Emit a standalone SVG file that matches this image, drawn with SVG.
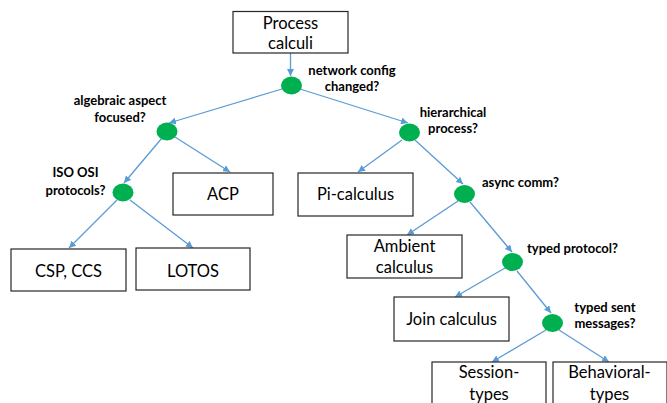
<svg xmlns="http://www.w3.org/2000/svg" width="667" height="403" viewBox="0 0 667 403">
<style>
.box{fill:#fff;stroke:#262626;stroke-width:1.2}
.dec{fill:#00b050}
.conn{stroke:#5b9bd5;stroke-width:1.3;fill:none;marker-end:url(#ah)}
.bt{font-family:Lato,"Open Sans",sans-serif;font-size:16.5px;fill:#000;text-anchor:middle}
.q{font-family:Lato,"Open Sans",sans-serif;font-size:13px;font-weight:bold;fill:#000}
.qc{text-anchor:middle}
</style>
<defs>
<marker id="ah" viewBox="0 0 10 10" refX="10" refY="5" markerWidth="7" markerHeight="7" markerUnits="userSpaceOnUse" orient="auto">
<path d="M0,0 L10,5 L0,10 z" fill="#5b9bd5"/>
</marker>
</defs>
<rect width="667" height="403" fill="#fff"/>
<g id="connectors">
<line class="conn" x1="290.5" y1="53" x2="290.5" y2="76"/>
<line class="conn" x1="282" y1="89" x2="169" y2="123"/>
<line class="conn" x1="300" y1="89" x2="408" y2="123"/>
<line class="conn" x1="162" y1="138" x2="124" y2="183"/>
<line class="conn" x1="175" y1="137" x2="230" y2="172"/>
<line class="conn" x1="117" y1="200" x2="69" y2="248"/>
<line class="conn" x1="130" y1="200" x2="193" y2="248"/>
<line class="conn" x1="402" y1="140" x2="358" y2="172"/>
<line class="conn" x1="415" y1="140" x2="463" y2="184"/>
<line class="conn" x1="458" y1="201" x2="407" y2="235"/>
<line class="conn" x1="470" y1="202" x2="512" y2="252"/>
<line class="conn" x1="505" y1="268" x2="455" y2="297"/>
<line class="conn" x1="517" y1="271" x2="551" y2="313"/>
<line class="conn" x1="546" y1="330" x2="492" y2="362"/>
<line class="conn" x1="559" y1="330" x2="609" y2="362"/>
</g>
<g id="process-calculi">
<rect class="box" x="233" y="11.5" width="115" height="41.5"/>
<text class="bt" x="290.5" y="29">Process</text>
<text class="bt" x="290.5" y="49">calculi</text>
</g>
<g id="q-network">
<ellipse class="dec" cx="291.5" cy="85.5" rx="10.5" ry="9"/>
<text class="q qc" x="352" y="75">network config</text>
<text class="q qc" x="352" y="91">changed?</text>
</g>
<g id="q-algebraic">
<ellipse class="dec" cx="167" cy="131.5" rx="10.5" ry="9"/>
<text class="q qc" x="120" y="105">algebraic aspect</text>
<text class="q qc" x="120" y="122">focused?</text>
</g>
<g id="q-iso">
<ellipse class="dec" cx="123" cy="192.5" rx="10.5" ry="9"/>
<text class="q qc" x="75.5" y="177">ISO OSI</text>
<text class="q qc" x="75.5" y="195">protocols?</text>
</g>
<g id="acp">
<rect class="box" x="173" y="173" width="100" height="42"/>
<text class="bt" x="223" y="200">ACP</text>
</g>
<g id="csp-ccs">
<rect class="box" x="11" y="249" width="115" height="42"/>
<text class="bt" x="68.5" y="277">CSP, CCS</text>
</g>
<g id="lotos">
<rect class="box" x="136" y="248" width="114" height="42"/>
<text class="bt" x="193" y="277">LOTOS</text>
</g>
<g id="q-hierarchical">
<ellipse class="dec" cx="409.5" cy="132.5" rx="10.5" ry="9"/>
<text class="q qc" x="453" y="117">hierarchical</text>
<text class="q qc" x="453" y="133">process?</text>
</g>
<g id="pi-calculus">
<rect class="box" x="298" y="173" width="115" height="43"/>
<text class="bt" x="355.5" y="200">Pi-calculus</text>
</g>
<g id="q-async">
<ellipse class="dec" cx="464.5" cy="194" rx="10.5" ry="9"/>
<text class="q" x="482" y="187">async comm?</text>
</g>
<g id="ambient-calculus">
<rect class="box" x="347" y="235" width="115" height="43"/>
<text class="bt" x="404.5" y="252">Ambient</text>
<text class="bt" x="404.5" y="273">calculus</text>
</g>
<g id="q-typed-protocol">
<ellipse class="dec" cx="512.5" cy="262" rx="10.5" ry="9"/>
<text class="q" x="527" y="253">typed protocol?</text>
</g>
<g id="join-calculus">
<rect class="box" x="394" y="297" width="115" height="44"/>
<text class="bt" x="451.5" y="325">Join calculus</text>
</g>
<g id="q-typed-sent">
<ellipse class="dec" cx="552.5" cy="323" rx="10.5" ry="9"/>
<text class="q qc" x="605" y="312">typed sent</text>
<text class="q qc" x="605" y="328">messages?</text>
</g>
<g id="session-types">
<rect class="box" x="432" y="362" width="114" height="50"/>
<text class="bt" x="489" y="378">Session-</text>
<text class="bt" x="489" y="400">types</text>
</g>
<g id="behavioral-types">
<rect class="box" x="553" y="362" width="114" height="50"/>
<text class="bt" x="609.5" y="378">Behavioral-</text>
<text class="bt" x="609.5" y="400">types</text>
</g>
</svg>
